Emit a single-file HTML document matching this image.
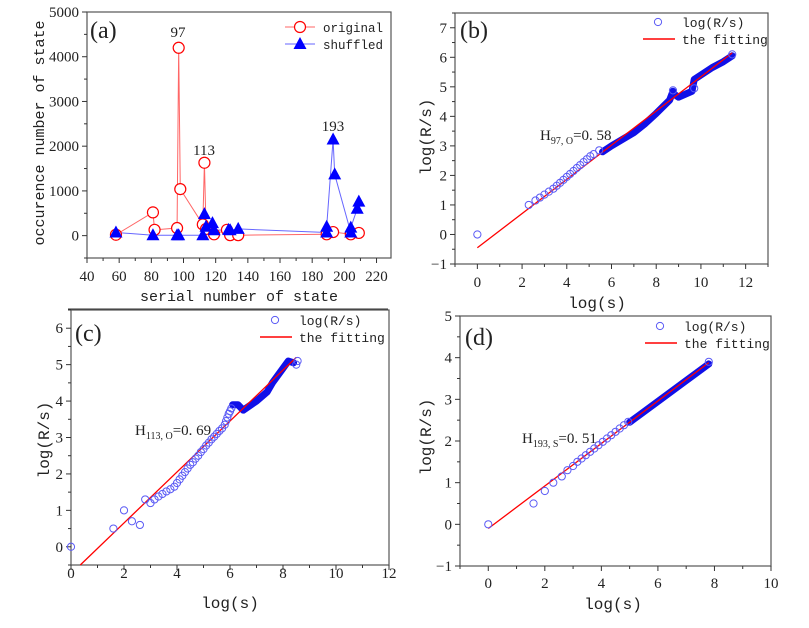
<!DOCTYPE html>
<html><head><meta charset="utf-8"><style>
body{margin:0;background:#fff}
svg text{font-family:"Liberation Serif",serif;fill:#222}
.mono{font-family:"Liberation Mono",monospace !important}
</style></head><body>
<svg id="fig" width="809" height="623" viewBox="0 0 809 623" xmlns="http://www.w3.org/2000/svg">
<line x1="68" y1="309" x2="388" y2="309" stroke="#333" stroke-width="1"/>
</svg>
<script>
// Panel (a) data
const aOrigX=[58,81,82,96,97,98,112,113,114,119,127,129,134,189,193,204,209];
const aOrigY=[20,520,130,170,4200,1040,250,1630,150,30,130,10,10,30,80,30,60];
const aShufX=[58,81,96,97,112,113,114,118,119,128,129,134,189,189,193,194,204,204,208,209];
const aShufY=[70,10,10,10,10,480,200,280,120,130,120,150,70,200,2150,1370,70,180,600,760];
// Panel (b) data
const bSparseX=[0,2.3,2.6,2.8,3.0,3.2,3.4,3.55,3.7,3.85,4.0,4.15,4.3,4.45,4.6,4.75,4.9,5.05,5.2,5.45,8.75,9.7,11.4];
const bSparseY=[0,1.0,1.15,1.25,1.35,1.45,1.55,1.65,1.75,1.85,1.95,2.05,2.15,2.25,2.35,2.45,2.55,2.65,2.72,2.85,4.88,4.95,6.1];
const bDenseX=[5.6,6,7,7.5,8,8.6,8.75,8.8,9.0,9.6,9.7,10,10.5,11,11.4];
const bDenseY=[2.8,3.0,3.45,3.75,4.1,4.55,4.85,4.75,4.65,4.85,5.25,5.4,5.65,5.85,6.05];
const bFitX=[0,11.4], bFitY=[-0.45,6.15];
// Panel (c) data
const cSparseX=[0,1.6,2,2.3,2.6,2.8,3.0,3.15,3.3,3.45,3.6,3.75,3.9,4.0,4.1,4.2,4.3,4.4,4.5,4.6,4.7,4.8,4.9,5.0,5.1,5.2,5.3,5.4,5.5,5.6,5.7,5.8,5.85,5.9,5.95,6.0,6.05,8.5,8.55];
const cSparseY=[0,0.5,1.0,0.7,0.6,1.3,1.2,1.3,1.38,1.45,1.52,1.58,1.65,1.75,1.85,1.95,2.05,2.15,2.25,2.32,2.42,2.5,2.6,2.68,2.78,2.86,2.95,3.02,3.1,3.18,3.25,3.35,3.45,3.55,3.65,3.72,3.8,5.0,5.1];
const cDenseX=[6.1,6.3,6.5,7,7.4,7.6,8.0,8.2,8.4];
const cDenseY=[3.9,3.9,3.75,4.0,4.25,4.5,4.9,5.1,5.05];
const cFitX=[0.35,8.5], cFitY=[-0.5,5.2];
// Panel (d) data
const dSparseX=[0,1.6,2.0,2.3,2.6,2.8,3.0,3.15,3.3,3.45,3.6,3.75,3.9,4.05,4.2,4.35,4.5,4.65,4.8,4.95,7.8];
const dSparseY=[0,0.5,0.8,1.0,1.15,1.3,1.4,1.5,1.58,1.66,1.74,1.82,1.9,1.98,2.06,2.14,2.22,2.3,2.38,2.46,3.9];
const dDenseX=[5.0,6,7,7.8];
const dDenseY=[2.45,2.95,3.45,3.85];
const dFitX=[0,7.8], dFitY=[-0.1,3.88];

const NS="http://www.w3.org/2000/svg";
const svg=document.getElementById('fig');
function mk(tag,attrs,parent){const e=document.createElementNS(NS,tag);for(const k in attrs)e.setAttribute(k,attrs[k]);(parent||svg).appendChild(e);return e;}
function txt(x,y,s,size,anchor,parent,cls){const t=mk('text',{x:x,y:y,'font-size':size,'text-anchor':anchor||'start'},parent);if(cls)t.setAttribute('class',cls);t.textContent=s;return t;}

function panel(p){
  const g=mk('g',{});
  
  
  const sx=v=>p.L+(v-p.x0)/(p.x1-p.x0)*(p.R-p.L);
  const sy=v=>p.B-(v-p.y0)/(p.y1-p.y0)*(p.B-p.T);
  const box=mk('rect',{x:p.L,y:p.T,width:p.R-p.L,height:p.B-p.T,fill:'none',stroke:'#555','stroke-width':1.2},g);
  
  
  for(let v=p.x0;v<=p.x1+1e-9;v+=p.xm){
    const major=Math.abs(((v-p.xs)/p.xd)-Math.round((v-p.xs)/p.xd))<1e-6;
    mk('line',{x1:sx(v),x2:sx(v),y1:p.B,y2:p.B+(major?5:3),stroke:'#333'},g);
  }
  for(let v=p.xs;v<=p.x1+1e-9;v+=p.xd){
    const t=txt(sx(v),p.xly,String(Math.round(v*10)/10),15,'middle',g);
    
    
  }
  for(let v=p.y0;v<=p.y1+1e-9;v+=p.ym){
    const major=Math.abs(((v-p.ys)/p.yd)-Math.round((v-p.ys)/p.yd))<1e-6;
    mk('line',{x1:p.L,x2:p.L-(major?5:3),y1:sy(v),y2:sy(v),stroke:'#333'},g);
  }
  for(let v=p.ys;v<=p.ye+1e-9;v+=p.yd){
    const s=v<0?'\u22121':String(Math.round(v));
    const t=txt(p.L-8,sy(v)+5,s,15,'end',g);
    
    
  }
  const xt=txt(p.xtx,p.xty,p.xtitle,p.tsz,'middle',g,'mono');
  
  
  const yt=txt(0,0,p.ytitle,p.tsz,'middle',g,'mono');
  yt.setAttribute('transform','translate('+p.ytx+','+p.yty+') rotate(-90)');
  
  
  const lb=txt(p.lbx,p.lby,'('+p.id+')',24,'start',g);
  
  
  return {g,sx,sy};
}

// ---------- Panel a ----------
(function(){
  const P=panel({id:'a',L:87,R:391,T:12,B:258,x0:40,x1:229,y0:-500,y1:5000,xs:40,xd:20,xm:10,ys:0,ye:5000,yd:1000,ym:500,
    xly:281,xtitle:'serial number of state',xtx:239,xty:301,ytitle:'occurence number of state',ytx:44,yty:133,tsz:15,lbx:90,lby:38});
  const g=P.g;
  const pts=(X,Y)=>X.map((x,i)=>P.sx(x)+','+P.sy(Y[i])).join(' ');
  const l1=mk('polyline',{points:pts(aOrigX,aOrigY),fill:'none',stroke:'#f66','stroke-width':1},g);
  
  
  const l2=mk('polyline',{points:pts(aShufX,aShufY),fill:'none',stroke:'#66f','stroke-width':1},g);
  
  
  aOrigX.forEach((x,i)=>{const c=mk('circle',{cx:P.sx(x),cy:P.sy(aOrigY[i]),r:5.5,fill:'#fff',stroke:'#f00','stroke-width':1.2},g);
    
    });
  aShufX.forEach((x,i)=>{const cx=P.sx(x),cy=P.sy(aShufY[i]);const t=mk('polygon',{points:(cx)+','+(cy-7)+' '+(cx-6.5)+','+(cy+5)+' '+(cx+6.5)+','+(cy+5),fill:'#00f'},g);
    
    });
  [['97',178,37],['113',204,155],['193',333,131]].forEach(a=>{const t=txt(a[1],a[2],a[0],15,'middle',g);
    
    });
  const lg=mk('g',{},g);
  
  
  mk('line',{x1:285,x2:315,y1:27,y2:27,stroke:'#f66'},lg);
  mk('circle',{cx:300,cy:27,r:5.5,fill:'#fff',stroke:'#f00','stroke-width':1.2},lg);
  txt(323,32,'original',12.5,'start',lg,'mono');
  mk('line',{x1:285,x2:315,y1:44,y2:44,stroke:'#66f'},lg);
  mk('polygon',{points:'300,37 293.5,49 306.5,49',fill:'#00f'},lg);
  txt(323,49,'shuffled',12.5,'start',lg,'mono');
})();

function logPanel(cfg,SX,SY,DX,DY,FX,FY,ann,sub,val,leg){
  const P=panel(cfg);const g=P.g;
  const fit=mk('line',{x1:P.sx(FX[0]),y1:P.sy(FY[0]),x2:P.sx(FX[1]),y2:P.sy(FY[1]),stroke:'#f00','stroke-width':1.3},g);
  const band=mk('polyline',{points:DX.map((x,i)=>P.sx(x)+','+P.sy(DY[i])).join(' '),fill:'none',stroke:'#1010e8','stroke-width':7,'stroke-linejoin':'round','stroke-linecap':'round'},g);
  
  
  g.appendChild(fit);
  
  
  SX.forEach((x,i)=>{const c=mk('circle',{cx:P.sx(x),cy:P.sy(SY[i]),r:3.6,fill:'none',stroke:'#5a5af5','stroke-width':1},g);
    
    });
  const t=mk('text',{x:ann[0],y:ann[1],'font-size':15},g);
  
  
  const a=mk('tspan',{},t);a.textContent='H';
  const b=mk('tspan',{'font-size':10,dy:4},t);b.textContent=sub;
  const c=mk('tspan',{dy:-4},t);c.textContent='=0. '+val;
  const lg=mk('g',{},g);
  
  
  mk('circle',{cx:leg[0]+15,cy:leg[1],r:3.6,fill:'none',stroke:'#5a5af5'},lg);
  txt(leg[0]+39,leg[1]+5,'log(R/s)',13,'start',lg,'mono');
  mk('line',{x1:leg[0],x2:leg[0]+32,y1:leg[1]+17,y2:leg[1]+17,stroke:'#f00','stroke-width':1.5},lg);
  txt(leg[0]+39,leg[1]+22,'the fitting',13,'start',lg,'mono');
}

logPanel({id:'b',L:455,R:768,T:13,B:264,x0:-1,x1:13,y0:-1,y1:7.5,xs:0,xd:2,xm:1,ys:-1,ye:7,yd:1,ym:0.5,
  xly:287,xtitle:'log(s)',xtx:597,xty:308,ytitle:'log(R/s)',ytx:431,yty:137,tsz:16,lbx:460,lby:38},
  bSparseX,bSparseY,bDenseX,bDenseY,bFitX,bFitY,[540,140],'97, O','58',[643,22]);
logPanel({id:'c',L:71,R:389,T:310,B:565,x0:0,x1:12,y0:-0.5,y1:6.5,xs:0,xd:2,xm:1,ys:0,ye:6,yd:1,ym:0.5,
  xly:578,xtitle:'log(s)',xtx:230,xty:608,ytitle:'log(R/s)',ytx:49,yty:440,tsz:16,lbx:75,lby:341},
  cSparseX,cSparseY,cDenseX,cDenseY,cFitX,cFitY,[135,435],'113, O','69',[260,320]);
logPanel({id:'d',L:460,R:771,T:316,B:566,x0:-1,x1:10,y0:-1,y1:5,xs:0,xd:2,xm:1,ys:-1,ye:5,yd:1,ym:0.5,
  xly:588,xtitle:'log(s)',xtx:613,xty:609,ytitle:'log(R/s)',ytx:431,yty:437,tsz:16,lbx:465,lby:345},
  dSparseX,dSparseY,dDenseX,dDenseY,dFitX,dFitY,[522,443],'193, S','51',[645,326]);
</script>
</body></html>
